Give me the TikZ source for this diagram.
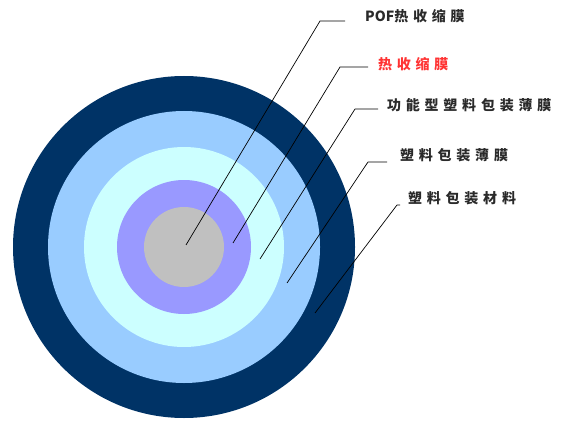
\documentclass[tikz,border=0pt]{standalone}
\usepackage{fontspec}
\newfontfamily\cjk[LetterSpace=34]{Noto Sans CJK SC}
\newfontfamily\cjkplain{Noto Sans CJK SC}
\definecolor{navy}{HTML}{003366}
\definecolor{skyb}{HTML}{99CCFF}
\definecolor{pcyan}{HTML}{CCFFFF}
\definecolor{lilac}{HTML}{9999FF}
\definecolor{silv}{HTML}{C0C0C0}
\definecolor{txt}{HTML}{2A2A2A}
\definecolor{redt}{HTML}{FF3333}
\tikzset{
  ring/.style={draw=none},
  lab/.style={anchor=west, inner sep=0pt, font=\cjk\fontsize{14}{16}\selectfont\bfseries, text=txt},
  lead/.style={draw=black, line width=0.7pt}
}
\begin{document}
\begin{tikzpicture}[x=1pt,y=-1pt]
\useasboundingbox (0,0) rectangle (561,422);
\coordinate (c) at (184,247);
\fill[navy] (c) circle[radius=171pt];
\fill[skyb] (c) circle[radius=136pt];
\fill[pcyan] (c) circle[radius=100pt];
\fill[lilac] (c) circle[radius=67pt];
\fill[silv] (c) circle[radius=40pt];
% labels
\node[lab] (t1) at (365,16) {{\cjkplain\bfseries POF}热收缩膜};
\node[lab, text=redt] (t2) at (378,64) {热收缩膜};
\node[lab] (t3) at (387,105) {功能型塑料包装薄膜};
\node[lab] (t4) at (400,155) {塑料包装薄膜};
\node[lab] (t5) at (408,198) {塑料包装材料};
% leader points
\coordinate (p1) at (186,245); \coordinate (k1) at (320,21); \coordinate (e1) at (345,21);
\coordinate (p2) at (233,243); \coordinate (k2) at (340,67); \coordinate (e2) at (368,67);
\coordinate (p3) at (260,259); \coordinate (k3) at (355,109); \coordinate (e3) at (378,109);
\coordinate (p4) at (287,283); \coordinate (k4) at (368,162); \coordinate (e4) at (387,162);
\coordinate (p5) at (315,313); \coordinate (k5) at (397,205); \coordinate (e5) at (400,205);
\draw[lead] (p1) -- (k1) -- (e1);
\draw[lead] (p2) -- (k2) -- (e2);
\draw[lead] (p3) -- (k3) -- (e3);
\draw[lead] (p4) -- (k4) -- (e4);
\draw[lead] (p5) -- (k5) -- (e5);
\end{tikzpicture}
\end{document}
